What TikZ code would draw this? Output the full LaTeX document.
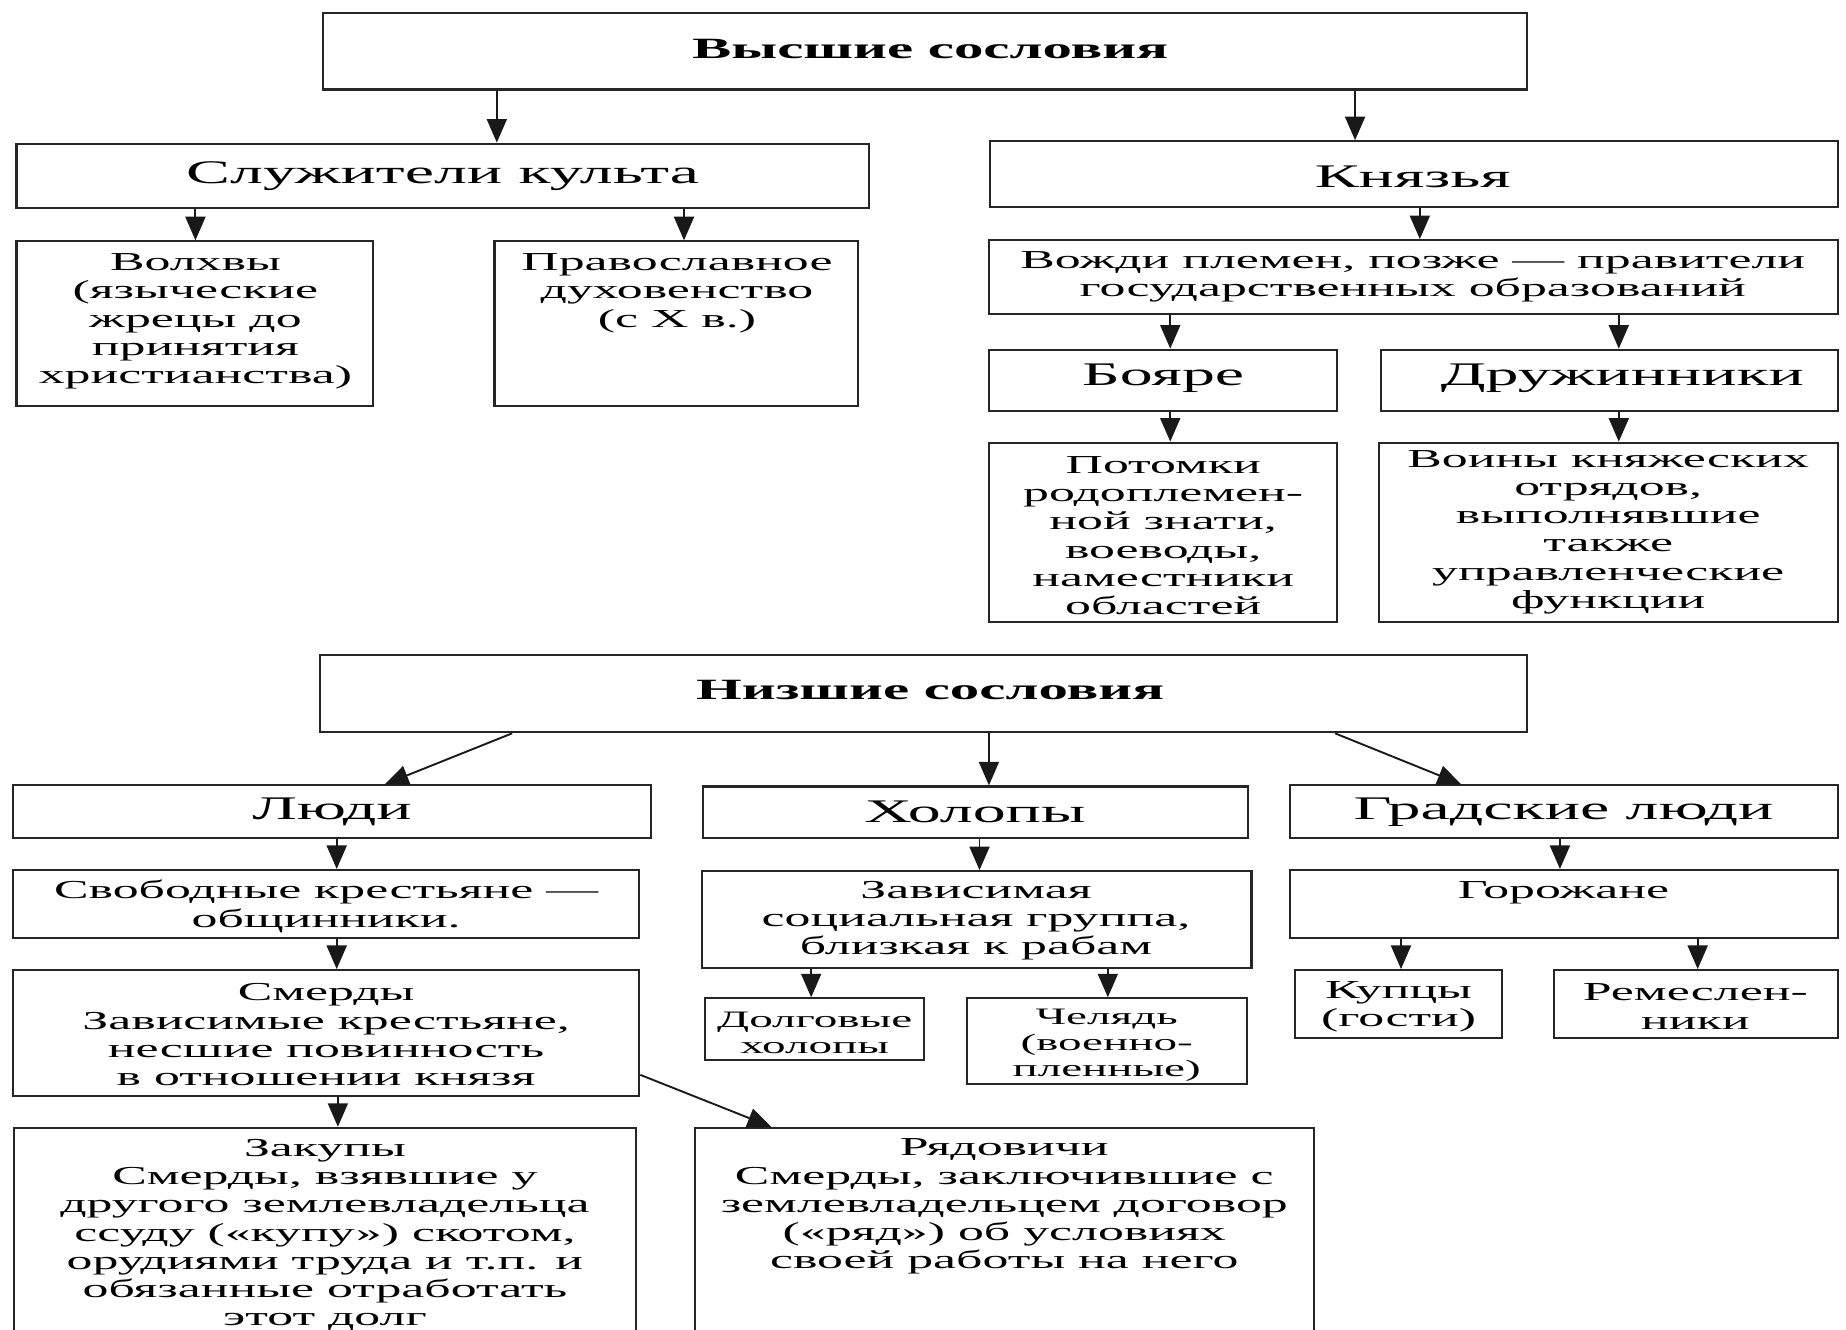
\documentclass[tikz,border=0pt]{standalone}
\usepackage{fontspec}
\setmainfont{Liberation Serif}[FakeStretch=2.0]
\usetikzlibrary{arrows.meta,fit}
\newcommand\mybox[5]{\node[box, fit={(#2,#3) (#4,#5)}] (#1) {};}
\begin{document}
\begin{tikzpicture}[x=1pt,y=-1pt,
  box/.style={draw=black!85, line width=1.8pt, rectangle, inner sep=0pt},
  txt/.style={align=center, inner sep=0pt, font=\fontsize{22}{24}\selectfont},
  small/.style={align=center, inner sep=0pt, font=\fontsize{20}{22}\selectfont},
  head/.style={inner sep=0pt, font=\fontsize{28}{30}\selectfont},
  bhead/.style={inner sep=0pt, font=\fontsize{25}{28}\selectfont\bfseries},
  arr/.style={line width=1.6pt, draw=black!90, -{Triangle[length=20pt,width=17pt]}}]
\useasboundingbox (0,0) rectangle (1568,1129);
\fill[white] (0,0) rectangle (1568,1129);
\clip (0,0) rectangle (1568,1129);

% upper estates
\mybox{top}{274}{11}{1297}{76}
\node[bhead] (top-t) at (790,42) {Высшие сословия};
\mybox{sluzh}{14}{122}{738}{177}
\node[head] (sluzh-t) at (376,150) {Служители культа};
\mybox{knyaz}{841}{120}{1561}{176}
\node[head] (knyaz-t) at (1200,150) {Князья};
\mybox{volhvy}{14}{205}{317}{345}
\node[txt] (volhvy-t) at (166,273) {Волхвы\\(языческие\\жрецы до\\принятия\\христианства)};
\mybox{prav}{420}{205}{729}{345}
\node[txt] (prav-t) at (575,249) {Православное\\духовенство\\(с X в.)};
\mybox{vozhdi}{840}{204}{1561}{267}
\node[txt] (vozhdi-t) at (1200,235) {Вожди племен, позже — правители\\государственных образований};
\mybox{boyare}{840}{297}{1136}{349}
\node[head] (boyare-t) at (988,321) {Бояре};
\mybox{druzh}{1173}{297}{1561}{349}
\node[head] (druzh-t) at (1378,321) {Дружинники};
\mybox{potomki}{840}{376}{1136}{528}
\node[txt] (potomki-t) at (988,455) {Потомки\\родоплемен-\\ной знати,\\воеводы,\\наместники\\областей};
\mybox{voiny}{1171}{376}{1561}{528}
\node[txt] (voiny-t) at (1366,452) {Воины княжеских\\отрядов,\\выполнявшие\\также\\управленческие\\функции};

% lower estates
\mybox{nizh}{272}{556}{1297}{622}
\node[bhead] (nizh-t) at (790,586) {Низшие сословия};
\mybox{lyudi}{11}{667}{553}{712}
\node[head] (lyudi-t) at (282,690) {Люди};
\mybox{holopy}{597}{668}{1060}{712}
\node[head] (holopy-t) at (828,690) {Холопы};
\mybox{grad}{1096}{667}{1561}{712}
\node[head] (grad-t) at (1328,690) {Градские люди};
\mybox{svob}{11}{739}{543}{797}
\node[txt] (svob-t) at (277,770) {Свободные крестьяне —\\общинники.};
\mybox{zavis}{596}{740}{1063}{822}
\node[txt] (zavis-t) at (829,782) {Зависимая\\социальная группа,\\близкая к рабам};
\mybox{gorozh}{1096}{739}{1561}{797}
\node[txt] (gorozh-t) at (1328,758) {Горожане};
\mybox{smerdy}{11}{824}{543}{931}
\node[txt] (smerdy-t) at (277,879) {Смерды\\Зависимые крестьяне,\\несшие повинность\\в отношении князя};
\mybox{dolg}{599}{848}{785}{900}
\node[small] (dolg-t) at (692,877) {Долговые\\холопы};
\mybox{chel}{821}{848}{1059}{921}
\node[small] (chel-t) at (940,888) {Челядь\\(военно-\\пленные)};
\mybox{kupcy}{1100}{824}{1276}{882}
\node[txt] (kupcy-t) at (1188,855) {Купцы\\(гости)};
\mybox{remesl}{1320}{824}{1561}{882}
\node[txt] (remesl-t) at (1440,855) {Ремеслен-\\ники};
\mybox{zakupy}{12}{958}{540}{1160}
\node[txt] (zakupy-t) at (276,1049) {Закупы\\Смерды, взявшие у\\другого землевладельца\\ссуду («купу») скотом,\\орудиями труда и т.п. и\\обязанные отработать\\этот долг};
\mybox{ryad}{590}{958}{1116}{1160}
\node[txt] (ryad-t) at (853,1025) {Рядовичи\\Смерды, заключившие с\\землевладельцем договор\\(«ряд») об условиях\\своей работы на него};

% connectors
\draw[arr] (top.south -| 422,0) -- (sluzh.north -| 422,0);
\draw[arr] (top.south -| 1151,0) -- (knyaz.north -| 1151,0);
\draw[arr] (sluzh.south -| 166,0) -- (volhvy.north -| 166,0);
\draw[arr] (sluzh.south -| 581,0) -- (prav.north -| 581,0);
\draw[arr] (knyaz.south -| 1206,0) -- (vozhdi.north -| 1206,0);
\draw[arr] (vozhdi.south -| 994,0) -- (boyare.north -| 994,0);
\draw[arr] (vozhdi.south -| 1375,0) -- (druzh.north -| 1375,0);
\draw[arr] (boyare.south -| 994,0) -- (potomki.north -| 994,0);
\draw[arr] (druzh.south -| 1375,0) -- (voiny.north -| 1375,0);
\draw[arr] (nizh.south -| 435,0) -- (lyudi.north -| 327,0);
\draw[arr] (nizh.south -| 840,0) -- (holopy.north -| 840,0);
\draw[arr] (nizh.south -| 1134,0) -- (grad.north -| 1241,0);
\draw[arr] (lyudi.south -| 286,0) -- (svob.north -| 286,0);
\draw[arr] (holopy.south -| 832,0) -- (zavis.north -| 832,0);
\draw[arr] (grad.south -| 1325,0) -- (gorozh.north -| 1325,0);
\draw[arr] (svob.south -| 286,0) -- (smerdy.north -| 286,0);
\draw[arr] (zavis.south -| 689,0) -- (dolg.north -| 689,0);
\draw[arr] (zavis.south -| 941,0) -- (chel.north -| 941,0);
\draw[arr] (gorozh.south -| 1190,0) -- (kupcy.north -| 1190,0);
\draw[arr] (gorozh.south -| 1442,0) -- (remesl.north -| 1442,0);
\draw[arr] (smerdy.south -| 287,0) -- (zakupy.north -| 287,0);
\draw[arr] (smerdy.east |- 0,913) -- (ryad.north -| 655,0);
\end{tikzpicture}
\end{document}
